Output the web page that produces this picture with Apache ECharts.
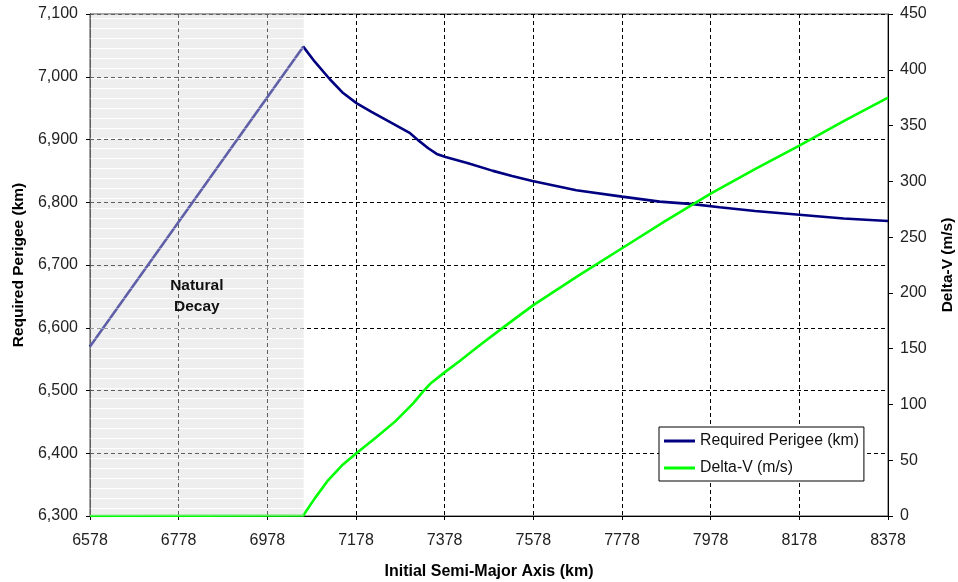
<!DOCTYPE html>
<html><head><meta charset="utf-8">
<script src="https://cdn.jsdelivr.net/npm/echarts@6/dist/echarts.min.js"></script>
<style>html,body{margin:0;padding:0;background:#fff;overflow:hidden}#c{width:958px;height:582px}</style>
</head><body><div id="c"></div>
<script>
// ---- data ----
const perigeeX = [6578, 7059, 7085, 7119, 7149, 7179, 7213, 7254, 7300, 7318, 7341, 7360, 7380, 7431, 7487, 7530, 7576, 7675, 7778, 7863, 7938, 7998, 8078, 8178, 8278, 8378];
const perigeeY = [6570, 7048, 7024, 6996, 6974, 6958, 6944, 6928, 6910, 6899, 6886, 6877, 6872, 6862, 6850, 6842, 6834, 6819, 6809, 6801, 6797, 6792, 6786, 6780, 6774, 6770];
const deltaVX = [6578, 7059, 7085, 7115, 7146, 7178, 7221, 7266, 7307, 7330, 7348, 7380, 7412, 7457, 7520, 7578, 7678, 7778, 7878, 7978, 8078, 8178, 8278, 8378];
const deltaVY = [0, 0.5, 15.8, 32, 45.2, 56, 69.6, 84.6, 101, 112, 119.5, 129.4, 139, 153, 172, 189, 215, 240, 265, 289, 311, 332, 354, 375];
const decayRange = [6578, 7060];
const decayLabel = 'Natural\nDecay';
const xAxisRange = [6578, 8378], xStep = 200;
const perigeeRange = [6300, 7100], perigeeStep = 100;
const dvRange = [0, 450], dvStep = 50;
const seriesNames = ['Required Perigee (km)', 'Delta-V (m/s)'];
const axisNames = ['Initial Semi-Major Axis (km)', 'Required Perigee (km)', 'Delta-V (m/s)'];

const FONT = "'Liberation Sans', Arial, sans-serif";
const zip = (a, b) => a.map((v, i) => [v, b[i]]);

// stripe pattern for shaded area
const pc = document.createElement('canvas');
pc.width = 8; pc.height = 10;
const g = pc.getContext('2d');
g.fillStyle = 'rgba(217,217,217,0.44)';
g.fillRect(0, 0, 8, 10);
g.clearRect(0, 8, 8, 1);
g.fillStyle = 'rgba(255,255,255,0.6)';
g.fillRect(0, 8, 8, 1);

const chart = echarts.init(document.getElementById('c'), null, {renderer: 'canvas', width: 958, height: 582});
const tickLabel = {fontSize: 16, color: '#222', fontFamily: FONT};
const nameStyle = {fontSize: 15.5, fontWeight: 'bold', color: '#000', fontFamily: FONT};
chart.setOption({
  animation: false,
  grid: {left: 90, top: 14, width: 798, height: 502, containLabel: false, outerBoundsMode: 'none',
         show: true, borderColor: '#444', borderWidth: 1},
  legend: {
    data: seriesNames, orient: 'vertical', left: 659, top: 427,
    itemWidth: 31, itemHeight: 3, itemGap: 11, icon: 'rect',
    padding: [6, 5, 5, 5], borderColor: '#000', borderWidth: 1, backgroundColor: '#fff',
    textStyle: {fontSize: 15.8, color: '#111', fontFamily: FONT}
  },
  xAxis: {
    type: 'value', min: xAxisRange[0], max: xAxisRange[1], interval: xStep,
    name: axisNames[0], nameLocation: 'middle', nameGap: 48,
    nameTextStyle: Object.assign({}, nameStyle, {fontSize: 16}),
    axisLine: {lineStyle: {color: '#000', width: 1}},
    axisTick: {length: 4, lineStyle: {color: '#000'}},
    axisLabel: Object.assign({margin: 17, formatter: v => String(v)}, tickLabel),
    splitLine: {show: true, lineStyle: {color: '#000', type: [4, 3], width: 1}}
  },
  yAxis: [{
    type: 'value', min: perigeeRange[0], max: perigeeRange[1], interval: perigeeStep,
    name: axisNames[1], nameLocation: 'middle', nameGap: 63, nameRotate: 90, nameTextStyle: nameStyle,
    axisLine: {show: true, lineStyle: {color: '#000', width: 1}},
    axisTick: {show: true, length: 4, lineStyle: {color: '#000'}},
    axisLabel: Object.assign({margin: 12, formatter: v => v.toLocaleString('en-US')}, tickLabel),
    splitLine: {show: true, lineStyle: {color: '#000', type: [4, 3], width: 1}}
  }, {
    type: 'value', min: dvRange[0], max: dvRange[1], interval: dvStep, position: 'right',
    name: axisNames[2], nameLocation: 'middle', nameGap: 52, nameRotate: 90, nameTextStyle: nameStyle,
    axisLine: {show: true, lineStyle: {color: '#000', width: 1}},
    axisTick: {show: true, length: 5, lineStyle: {color: '#000'}},
    axisLabel: Object.assign({margin: 12}, tickLabel),
    splitLine: {show: false}
  }],
  series: [{
    name: seriesNames[0], type: 'line', yAxisIndex: 0, data: zip(perigeeX, perigeeY),
    showSymbol: false, symbol: 'none', z: 3,
    lineStyle: {color: '#000080', width: 2.6}, itemStyle: {color: '#000080'}
  }, {
    name: seriesNames[1], type: 'line', yAxisIndex: 1, data: zip(deltaVX, deltaVY),
    showSymbol: false, symbol: 'none', z: 3,
    lineStyle: {color: '#00ff00', width: 2.6}, itemStyle: {color: '#00ff00'}
  }, {
    name: 'decay', type: 'line', yAxisIndex: 0, silent: true, z: 10,
    data: [[decayRange[0], perigeeRange[1]], [decayRange[1], perigeeRange[1]]],
    showSymbol: false, symbol: 'none',
    lineStyle: {width: 0, opacity: 0},
    areaStyle: {origin: 'start', color: {image: pc, repeat: 'repeat'}, opacity: 1}
  }]
});
const p = chart.convertToPixel({gridIndex: 0}, [(decayRange[0] + decayRange[1]) / 2, 6651]);
chart.setOption({
  graphic: [{
    type: 'text', x: p[0], y: p[1], z: 100,
    style: {text: decayLabel, align: 'center', verticalAlign: 'middle', fontSize: 15.5, fontWeight: 'bold',
            fill: '#111', fontFamily: FONT, lineHeight: 21}
  }]
});
</script></body></html>
